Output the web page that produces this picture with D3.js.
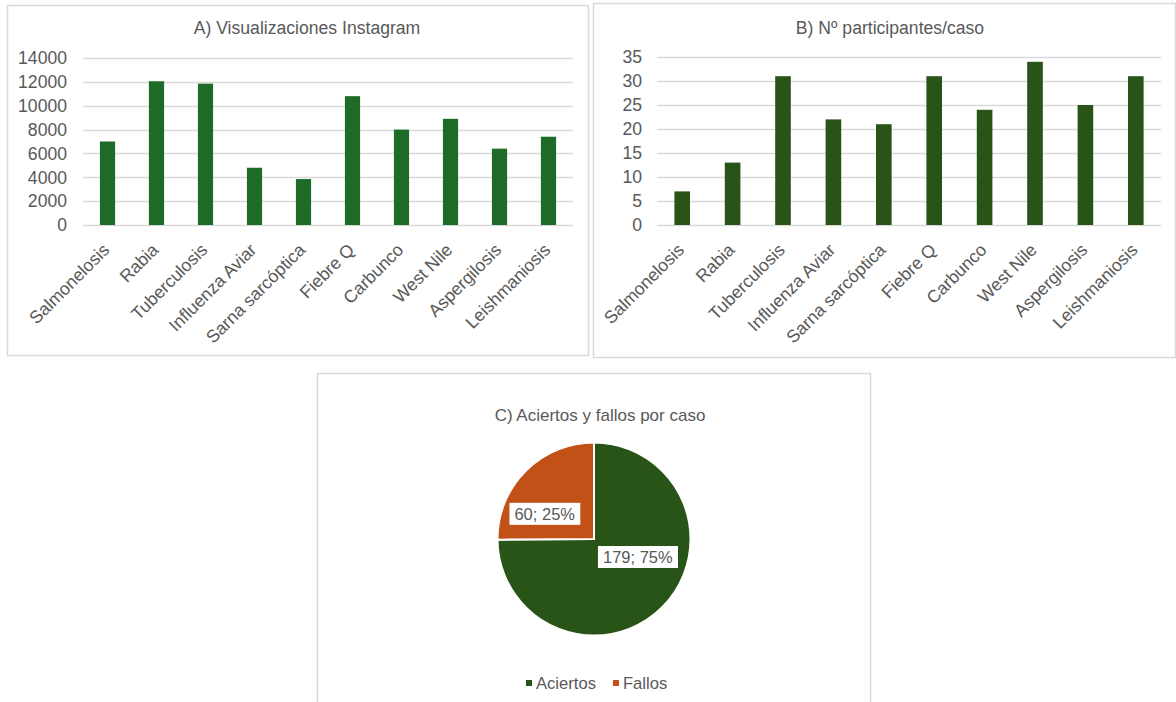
<!DOCTYPE html>
<html>
<head>
<meta charset="utf-8">
<script src="https://cdnjs.cloudflare.com/ajax/libs/d3/7.8.5/d3.min.js"></script>
<style>
  html, body { margin: 0; padding: 0; background: #fff; }
  svg { display: block; }
  text { font-family: "Liberation Sans", Arial, sans-serif; fill: #595959; }
</style>
</head>
<body>
<svg id="chart" width="1176" height="702"></svg>
<script>
// ---------------- DATA ----------------
const categories = ["Salmonelosis", "Rabia", "Tuberculosis", "Influenza Aviar", "Sarna sarcóptica",
                    "Fiebre Q", "Carbunco", "West Nile", "Aspergilosis", "Leishmaniosis"];
const views = [7000, 12050, 11850, 4800, 3850, 10800, 8000, 8900, 6400, 7400];
const participants = [7, 13, 31, 22, 21, 31, 24, 34, 25, 31];
const viewTicks = [0, 2000, 4000, 6000, 8000, 10000, 12000, 14000];
const participantTicks = [0, 5, 10, 15, 20, 25, 30, 35];
const pieLabels = ["Aciertos", "Fallos"];
const pieValues = [179, 60];
const titles = ["A) Visualizaciones Instagram", "B) Nº participantes/caso", "C) Aciertos y fallos por caso"];

// ---------------- DRAW ----------------
const svg = d3.select("#chart");
const FONT = 17.6;
const grid = "#d9d9d9";
const frame = "#d9d9d9";

svg.append("rect").attr("x", 0).attr("y", 0).attr("width", 1176).attr("height", 702).attr("fill", "#fff");

function barPanel(opt) {
  const g = svg.append("g");
  g.append("rect").attr("x", opt.box[0] + 0.5).attr("y", opt.box[1] + 0.5)
    .attr("width", opt.box[2]).attr("height", opt.box[3])
    .attr("fill", "#fff").attr("stroke", frame).attr("stroke-width", 1.5);

  const x = d3.scaleBand().domain(categories).range([opt.x0, opt.x1])
    .paddingInner(0.69).paddingOuter(0.345);
  const y = d3.scaleLinear().domain([0, opt.max]).range([opt.yBottom, opt.yTop]);

  // gridlines
  g.append("g").selectAll("line").data(opt.ticks).join("line")
    .attr("x1", opt.x0).attr("x2", opt.x1)
    .attr("y1", d => Math.round(y(d)) + 0.5).attr("y2", d => Math.round(y(d)) + 0.5)
    .attr("stroke", grid).attr("stroke-width", 1.3);

  // y tick labels
  g.append("g").selectAll("text").data(opt.ticks).join("text")
    .attr("x", opt.x0 - opt.tickGap).attr("y", d => y(d)).attr("dy", "0.36em")
    .attr("text-anchor", "end").attr("font-size", FONT)
    .text(d => d);

  // bars
  g.append("g").selectAll("rect").data(opt.values).join("rect")
    .attr("x", (d, i) => x(categories[i]))
    .attr("width", x.bandwidth())
    .attr("y", d => y(d))
    .attr("height", d => y(0) - y(d))
    .attr("fill", opt.color);

  // category labels
  g.append("g").selectAll("text").data(categories).join("text")
    .attr("transform", d => `translate(${x(d) + x.bandwidth() / 2 + 3},${opt.yBottom + 26}) rotate(-45)`)
    .attr("text-anchor", "end").attr("font-size", FONT)
    .text(d => d);

  // title
  g.append("text").attr("x", opt.titleX).attr("y", opt.titleY)
    .attr("text-anchor", "middle").attr("font-size", FONT)
    .text(opt.title);
}

barPanel({
  box: [7, 5, 581, 350], x0: 83, x1: 573, yTop: 58, yBottom: 225,
  max: 14000, ticks: viewTicks, values: views, color: "#1e6b27",
  tickGap: 16, title: titles[0], titleX: 307, titleY: 34
});

barPanel({
  box: [593, 3, 582, 354], x0: 657, x1: 1161, yTop: 57, yBottom: 225,
  max: 35, ticks: participantTicks, values: participants, color: "#285418",
  tickGap: 15, title: titles[1], titleX: 890, titleY: 34
});

// ---------------- PIE ----------------
const pieColors = d3.scaleOrdinal().domain(pieLabels).range(["#285418", "#c25117"]);
const pg = svg.append("g");
pg.append("rect").attr("x", 317.5).attr("y", 373.5).attr("width", 553).attr("height", 340)
  .attr("fill", "#fff").attr("stroke", frame).attr("stroke-width", 1.5);

pg.append("text").attr("x", 600).attr("y", 421).attr("text-anchor", "middle")
  .attr("font-size", 17).text(titles[2]);

const cx = 594, cy = 539, R = 96.5;
const pie = d3.pie().sort(null).value(d => d.v);
const arcs = pie(pieLabels.map((l, i) => ({ l, v: pieValues[i] })));
const arc = d3.arc().innerRadius(0).outerRadius(R);
const pc = pg.append("g").attr("transform", `translate(${cx},${cy})`);
pc.selectAll("path").data(arcs).join("path")
  .attr("d", arc).attr("fill", d => pieColors(d.data.l))
  .attr("stroke", "#fff").attr("stroke-width", 2).attr("stroke-linejoin", "miter");

const total = d3.sum(pieValues);
const lab = pc.selectAll("g.lab").data(arcs).join("g").attr("class", "lab")
  .attr("transform", d => {
    const a = (d.startAngle + d.endAngle) / 2;
    const big = d.data.l === "Aciertos";
    const rx = R * (big ? 0.64 : 0.72);
    const ry = R * (big ? 0.265 : 0.37);
    return `translate(${Math.sin(a) * rx},${-Math.cos(a) * ry})`;
  });
lab.each(function (d) {
  const s = d3.select(this);
  const t = s.append("text").attr("text-anchor", "middle").attr("dy", "0.36em")
    .attr("font-size", 16.5)
    .text(`${d.data.v}; ${Math.round(d.data.v / total * 100)}%`);
  const bb = t.node().getBBox();
  s.insert("rect", "text").attr("x", bb.x - 5).attr("y", -11)
    .attr("width", bb.width + 10).attr("height", 22).attr("fill", "#fff");
});

// legend
const leg = pg.append("g");
let lx = 526;
pieLabels.forEach((l, i) => {
  leg.append("rect").attr("x", lx).attr("y", 680).attr("width", 6).attr("height", 6)
    .attr("fill", pieColors(l));
  const t = leg.append("text").attr("x", lx + 10).attr("y", 689).attr("font-size", 16.6).text(l);
  lx += 10 + t.node().getComputedTextLength() + 17;
});
</script>
</body>
</html>
